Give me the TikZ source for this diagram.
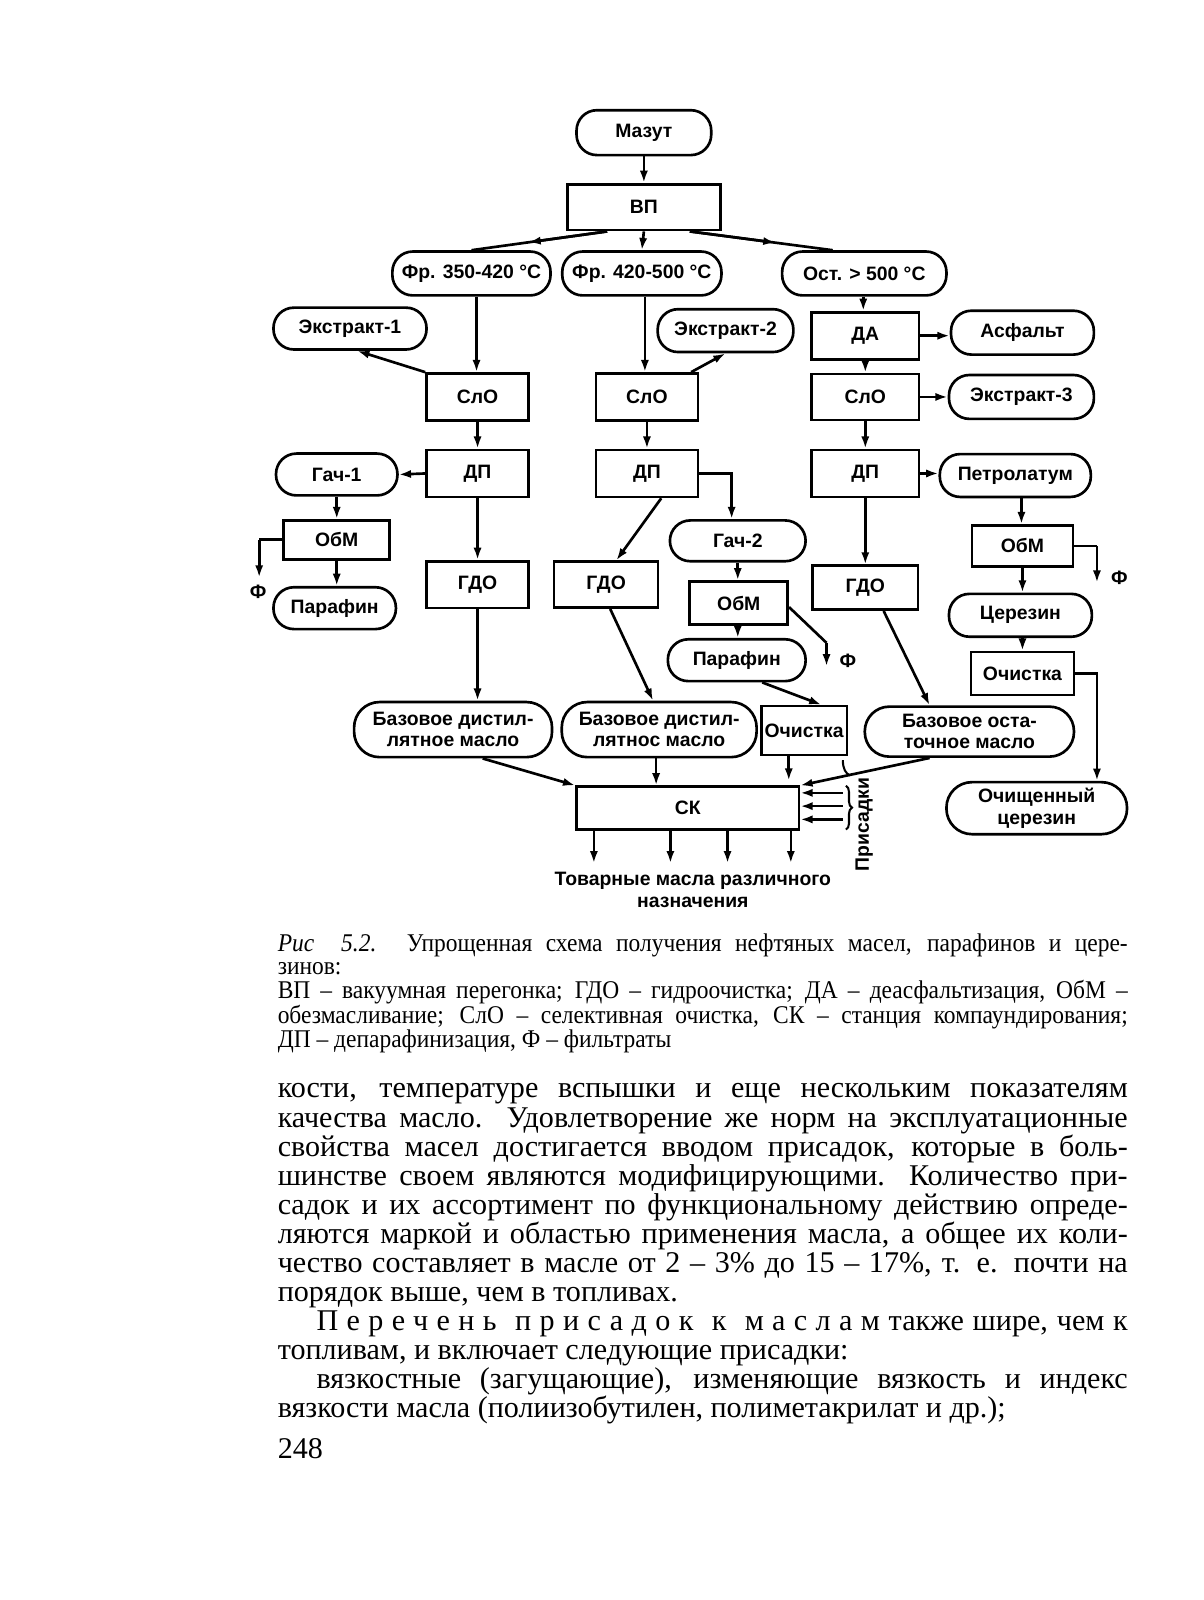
\documentclass[tikz,border=0pt]{standalone}
\usepackage{fontspec}
\setmainfont{Liberation Serif}
\setsansfont{Liberation Sans}
\newfontfamily\spacedfont[LetterSpace=28]{Liberation Serif}
\newfontfamily\capfam[FakeStretch=0.92]{Liberation Serif}
\usetikzlibrary{arrows.meta,calc,decorations.pathreplacing}
\newcommand\dfont{\sffamily\bfseries\fontsize{19}{21}\selectfont}
\newcommand\capfont{\capfam\fontsize{25}{27}\selectfont}
\newcommand\bodyfont{\rmfamily\fontsize{29.5}{31}\selectfont}
\tikzset{
  sz/.style 2 args={minimum width=#1,minimum height=#2},
  box/.style={draw,line width=2.6pt,rectangle,inner sep=0pt,font=\dfont},
  rnd/.style={draw,line width=2.6pt,rectangle,rounded corners=20pt,inner sep=0pt,font=\dfont,align=center},
  lbl/.style={inner sep=0pt,font=\dfont,align=center},
  ln/.style={line width=2.6pt},
  ar/.style={line width=2.6pt,-{Latex[length=12pt,width=8pt]}},
  txt/.style={anchor=base west,inner sep=0pt},
}
\begin{document}
\begin{tikzpicture}[x=1pt,y=-1pt]
\useasboundingbox (0,0) rectangle (1179,1568);
\fill[white] (0,0) rectangle (1179,1568);

% ---- nodes ----
\node[rnd,sz={132pt}{44pt}] (mazut) at (631,130) {Мазут};
\node[box,sz={150pt}{45pt}] (vp) at (631,203) {ВП};
\node[rnd,sz={155pt}{43pt}] (fr1) at (462,268) {Фр. 350-420 °C};
\node[rnd,sz={156pt}{43pt}] (fr2) at (629,268) {Фр. 420-500 °C};
\node[rnd,sz={161pt}{43pt}] (ost) at (847,268) {Ост. > 500 °C};

\node[rnd,sz={150pt}{41pt}] (ex1) at (343,322) {Экстракт-1};
\node[box,sz={100pt}{46pt}] (slo1) at (468,389) {СлО};
\node[box,sz={100pt}{46pt}] (dp1) at (468,464) {ДП};
\node[rnd,sz={119pt}{41pt}] (gach1) at (330,465) {Гач-1};
\node[box,sz={104pt}{38pt}] (obm1) at (330,529) {ОбМ};
\node[rnd,sz={120pt}{41pt}] (par1) at (328,596) {Парафин};
\node[box,sz={100pt}{46pt}] (gdo1) at (468,573) {ГДО};
\node[rnd,rounded corners=25pt,sz={194pt}{54pt}] (bdm1) at (444,715) {Базовое дистил-\\лятное масло};

\node[rnd,sz={133pt}{42pt}] (ex2) at (711,324) {Экстракт-2};
\node[box,sz={100pt}{46pt}] (slo2) at (634,389) {СлО};
\node[box,sz={100pt}{46pt}] (dp2) at (634,464) {ДП};
\node[rnd,sz={133pt}{40pt}] (gach2) at (723,530) {Гач-2};
\node[box,sz={102pt}{45pt}] (gdo2) at (594,573) {ГДО};
\node[box,sz={96pt}{42pt}] (obm2) at (724,591) {ОбМ};
\node[rnd,sz={135pt}{41pt}] (par2) at (722,647) {Парафин};
\node[box,sz={84pt}{48pt}] (och2) at (788,716) {Очистка};
\node[rnd,rounded corners=25pt,sz={191pt}{54pt}] (bdm2) at (646,715) {Базовое дистил-\\лятнос масло};

\node[box,sz={105pt}{46pt}] (da) at (848,329) {ДА};
\node[rnd,sz={140pt}{43pt}] (asf) at (1002,326) {Асфальт};
\node[box,sz={105pt}{45pt}] (slo3) at (848,389) {СлО};
\node[rnd,sz={142pt}{43pt}] (ex3) at (1001,389) {Экстракт-3};
\node[box,sz={105pt}{46pt}] (dp3) at (848,464) {ДП};
\node[rnd,sz={148pt}{42pt}] (petr) at (995,466) {Петролатум};
\node[box,sz={103pt}{43pt}] (gdo3) at (848,576) {ГДО};
\node[rnd,rounded corners=24pt,sz={205pt}{49pt}] (bom) at (950,717) {Базовое оста-\\точное масло};
\node[box,sz={99pt}{40pt}] (obm3) at (1002,535) {ОбМ};
\node[rnd,sz={140pt}{42pt}] (cer) at (1000,603) {Церезин};
\node[box,sz={101pt}{42pt}] (och3) at (1002,660) {Очистка};
\node[rnd,rounded corners=25pt,sz={177pt}{51pt}] (ocer) at (1016,792) {Очищенный\\церезин};

\node[box,sz={218pt}{42pt}] (sk) at (674,792) {СК};

\node[lbl] (f1) at (253,580) {Ф};
\node[lbl] (f2) at (831,648) {Ф};
\node[lbl] (f3) at (1097,566) {Ф};
\node[lbl] (tov) at (679,872) {Товарные масла различного\\назначения};
\node[lbl,rotate=90] (pris) at (847,808) {Присадки};

% ---- coordinates ----
\coordinate (vpL) at ($(vp.south)+(-36,0)$);
\coordinate (vpR) at ($(vp.south)+(45,0)$);
\coordinate (ostT) at ($(ost.north)+(-31,0)$);
\coordinate (f1k) at (254,529);
\coordinate (f1e) at (254,566);
\coordinate (f2k) at (810,630);
\coordinate (f2e) at (810,653);
\coordinate (f3k) at (1075,535);
\coordinate (f3e) at (1075,571);
\coordinate (och2e) at (773,765);

% ---- connectors ----
\draw[ar] (mazut.south) -- (vp.north);
\draw[ln] (vpL) -- (fr1.north);
\draw[ar] (vpL) -- ($(vpL)!0.58!(fr1.north)$);
\draw[ar] (vp.south) -- (fr2.north);
\draw[ln] (vpR) -- (ostT);
\draw[ar] (vpR) -- ($(vpR)!0.6!(ostT)$);

\draw[ar] ($(fr1.south)+(5,0)$) -- ($(fr1.south |- slo1.north)+(5,0)$);
\draw[ar] (slo1.north west) -- ($(ex1.south)+(7,0)$);
\draw[ar] (slo1.south) -- (dp1.north);
\draw[ar] (dp1.west) -- (gach1.east);
\draw[ar] (gach1.south) -- (obm1.north);
\draw[ln] (obm1.west) -- (f1k);
\draw[ar] (f1k) -- (f1e);
\draw[ar] (obm1.south) -- (obm1.south |- par1.north);
\draw[ar] (dp1.south) -- (gdo1.north);
\draw[ar] (gdo1.south) -- (gdo1.south |- bdm1.north);
\draw[ar] ($(bdm1.south)+(29,0)$) -- (sk.north west);

\draw[ar] ($(fr2.south)+(3,0)$) -- ($(fr2.south |- slo2.north)+(3,0)$);
\draw[ar] ($(slo2.north east)+(-8,0)$) -- (ex2.south);
\draw[ar] (slo2.south) -- (dp2.north);
\draw[ar] (dp2.east) -| ($(gach2.north)+(-6,0)$);
\draw[ar] ($(dp2.south)+(14,0)$) -- ($(gdo2.north)+(10,0)$);
\draw[ar] (gach2.south) -- (gach2.south |- obm2.north);
\draw[ln] ($(obm2.east)+(0,4)$) -- (f2k);
\draw[ar] (f2k) -- (f2e);
\draw[ar] ($(obm2.south)+(-1,0)$) -- ($(obm2.south |- par2.north)+(-1,0)$);
\draw[ar] ($(par2.south)+(25,0)$) -- ($(och2.north)+(17,0)$);
\draw[ar] ($(och2.south)+(-15,0)$) -- (och2e);
\draw[ar] ($(gdo2.south)+(4,0)$) -- ($(bdm2.north)+(-6,0)$);
\draw[ar] ($(bdm2.south)+(-3,0)$) -- ($(bdm2.south |- sk.north)+(-3,0)$);

\draw[ar] ($(ost.south)+(-1,0)$) -- ($(da.north)+(-2,0)$);
\draw[ar] (da.east) -- (da.east -| asf.west);
\draw[ar] (da.south) -- (slo3.north);
\draw[ar] (slo3.east) -- (ex3.west);
\draw[ar] (slo3.south) -- (dp3.north);
\draw[ar] (dp3.east) -- (dp3.east -| petr.west);
\draw[ar] (dp3.south) -- (gdo3.north);
\draw[ar] ($(gdo3.south)+(18,0)$) -- ($(bom.north)+(-39,0)$);
\draw[ar] ($(bom.south)+(-39,0)$) -- (sk.north east);
\draw[ar] ($(petr.south)+(6,0)$) -- ($(petr.south |- obm3.north)+(6,0)$);
\draw[ln] (obm3.east) -- (f3k);
\draw[ar] (f3k) -- (f3e);
\draw[ar] (obm3.south) -- (obm3.south |- cer.north);
\draw[ar] (cer.south -| och3.north) -- (och3.north);
\draw[ar] (och3.east) -| ($(ocer.north)+(59,0)$);

\foreach \xx/\nm in {582/o1,657/o2,713/o3,775/o4}{
  \coordinate (\nm) at (\xx,846);
  \draw[ar] (sk.south -| \nm) -- (\nm);
}
\foreach \yy/\nm in {777/p1,790/p2,803/p3}{
  \coordinate (\nm) at (826,\yy);
  \draw[ar] (\nm) -- (\nm -| sk.east);
}
\draw[line width=2pt,decorate,decoration={brace,amplitude=6pt}] (829,770) -- (829,813);
\draw[line width=2pt] (826,745) .. controls (826,754) and (829,758) .. (833,760);

% ---- caption ----
\begin{scope}[every node/.style={txt,font=\capfont}]
\node (c1) at (272,932) {\makebox[833pt][s]{\textit{Рис\ \ 5.2.} Упрощенная схема получения нефтяных масел, парафинов и цере-}};
\node (c2) at (272,955) {зинов:};
\node (c3) at (272,979) {\makebox[833pt][s]{ВП – вакуумная перегонка; ГДО – гидроочистка; ДА – деасфальтизация, ОбМ –}};
\node (c4) at (272,1003) {\makebox[833pt][s]{обезмасливание; СлО – селективная очистка, СК – станция компаундирования;}};
\node (c5) at (272,1027) {ДП – депарафинизация, Ф – фильтраты};
\end{scope}

% ---- body ----
\begin{scope}[every node/.style={txt,font=\bodyfont}]
\node (b1) at (272,1076) {\makebox[833pt][s]{кости, температуре вспышки и еще нескольким показателям}};
\node (b2) at (272,1104.5) {\makebox[833pt][s]{качества масло. Удовлетворение же норм на эксплуатационные}};
\node (b3) at (272,1133) {\makebox[833pt][s]{свойства масел достигается вводом присадок, которые в боль-}};
\node (b4) at (272,1161.5) {\makebox[833pt][s]{шинстве своем являются модифицирующими. Количество при-}};
\node (b5) at (272,1190) {\makebox[833pt][s]{садок и их ассортимент по функциональному действию опреде-}};
\node (b6) at (272,1218.5) {\makebox[833pt][s]{ляются маркой и областью применения масла, а общее их коли-}};
\node (b7) at (272,1247) {\makebox[833pt][s]{чество составляет в масле от 2 – 3\% до 15 – 17\%, т. е. почти на}};
\node (b8) at (272,1275.5) {порядок выше, чем в топливах.};
\node (b9) at (310,1304) {\makebox[795pt][s]{{\spacedfont Перечень присадок к маслам} также шире, чем к}};
\node (b10) at (272,1332.5) {топливам, и включает следующие присадки:};
\node (b11) at (310,1361) {\makebox[795pt][s]{вязкостные (загущающие), изменяющие вязкость и индекс}};
\node (b12) at (272,1389.5) {вязкости масла (полиизобутилен, полиметакрилат и др.);};
\node (pg) at (272,1429) {248};
\end{scope}
\end{tikzpicture}
\end{document}
